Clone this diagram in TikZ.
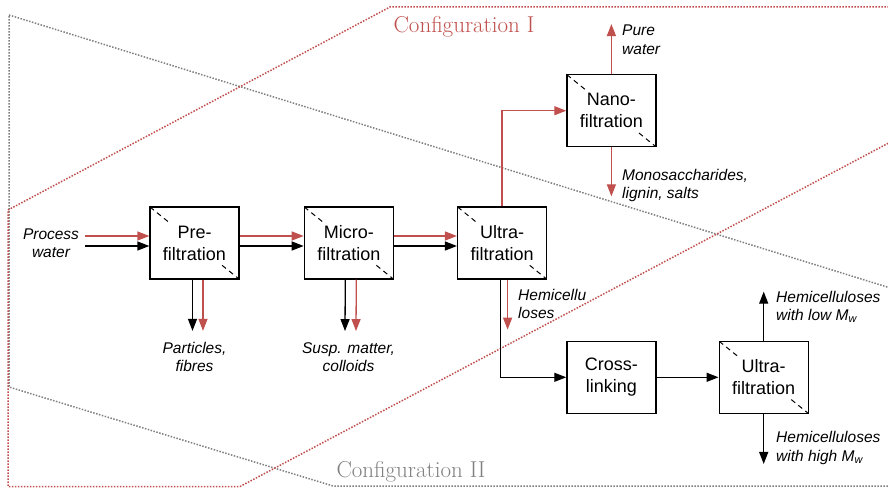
\documentclass[tikz,border=0pt]{standalone}
\usepackage{fontspec}
\setsansfont{Liberation Sans}
\usepackage{tikz}
\usetikzlibrary{arrows.meta,positioning,calc}
\definecolor{cfgred}{RGB}{192,80,77}
\definecolor{cfggray}{RGB}{128,128,128}

\begin{document}
\begin{tikzpicture}[
  x=1pt, y=1pt,
  box/.style={draw, line width=1.3pt, fill=white, minimum width=89pt, minimum height=72pt, align=center, inner sep=0pt, font=\sffamily\fontsize{18}{22}\selectfont},
  filt/.style={box, path picture={
      \draw[line width=1pt, dash pattern=on 5pt off 4pt] (path picture bounding box.north west) -- ($(path picture bounding box.north west)!0.22!(path picture bounding box.south east)$);
      \draw[line width=1pt, dash pattern=on 5pt off 4pt] ($(path picture bounding box.north west)!0.81!(path picture bounding box.south east)$) -- (path picture bounding box.south east);}},
  lbl/.style={align=left, inner sep=0pt, font=\sffamily\itshape\fontsize{15.5}{18.5}\selectfont},
  cfglbl/.style={inner sep=0pt, font=\rmfamily\fontsize{23}{27}\selectfont},
  arr/.style={-{Triangle[length=12pt,width=9pt]}, line width=1.3pt},
  rarr/.style={arr, cfgred},
  cfg/.style={line width=1.5pt, dash pattern=on 1.5pt off 1.5pt}
]
\useasboundingbox (0,0) rectangle (888,488);

% configuration outlines
\begin{scope}
  \clip (0,0) rectangle (888,488);
  \draw[cfg, cfggray] (9,473) -- (900,197) -- (900,2) -- (333,2) -- (9,101) -- cycle;
  \draw[cfg, cfgred] (8,278) -- (390,481) -- (900,481) -- (900,351) -- (240,1.5) -- (8,1.5) -- cycle;
\end{scope}
\node[cfglbl, text=cfgred] (cfgI) at (464,461) {Configuration I};
\node[cfglbl, text=cfggray] (cfgII) at (411,16) {Configuration II};

% process units
\node[filt] (pre) at (194.5,245) {Pre-\\filtration};
\node[filt, right=64pt of pre] (micro) {Micro-\\filtration};
\node[filt, right=63pt of micro] (ultra) {Ultra-\\filtration};
\node[filt, above right=59pt and 19pt of ultra] (nano) {Nano-\\filtration};
\node[box, below right=61pt and 19pt of ultra] (cross) {Cross-\\linking};
\node[filt, right=62pt of cross] (ultrab) {Ultra-\\filtration};

% streams
\node[lbl, align=center] (pw) at (51,245) {Process\\water};
\node[lbl, align=center] (pf) at (194.5,131) {Particles,\\fibres};
\node[lbl, align=center] (sm) at (348.5,131) {Susp. matter,\\colloids};
\node[lbl, anchor=west] (hc) at (518,184) {Hemicellu\\loses};
\node[lbl, anchor=west] (pure) at (622,448.5) {Pure\\water};
\node[lbl, anchor=west] (mono) at (622,302.5) {Monosaccharides,\\lignin, salts};
\node[lbl, anchor=west] (low) at (776,181) {Hemicelluloses\\with low \textit{M}\textsubscript{\textit{w}}};
\node[lbl, anchor=west] (high) at (776,40) {Hemicelluloses\\with high \textit{M}\textsubscript{\textit{w}}};

\draw[rarr] ([xshift=6pt,yshift=7pt]pw.east) -- ([yshift=7pt]pre.west);
\draw[arr] ([xshift=6pt,yshift=-3pt]pw.east) -- ([yshift=-3pt]pre.west);
\foreach \a/\b in {pre/micro, micro/ultra} {
  \draw[rarr] ([yshift=7pt]\a.east) -- ([yshift=7pt]\b.west);
  \draw[arr] ([yshift=-3pt]\a.east) -- ([yshift=-3pt]\b.west);
}
\draw[arr] ([xshift=-2pt]pre.south) -- ([xshift=-2pt,yshift=11pt]pf.north);
\draw[rarr] ([xshift=8.5pt]pre.south) -- ([xshift=8.5pt,yshift=11pt]pf.north);
\draw[arr] ([xshift=-3.5pt]micro.south) -- ([xshift=-3.5pt,yshift=11pt]sm.north);
\draw[rarr] ([xshift=7.5pt]micro.south) -- ([xshift=7.5pt,yshift=11pt]sm.north);

\draw[rarr] (ultra.north) |- (nano.west);
\draw[rarr] (nano.north) -- ([yshift=50pt]nano.north);
\draw[rarr] (nano.south) -- ([yshift=-49pt]nano.south);
\draw[rarr] ([xshift=5.5pt]ultra.south) -- ([xshift=5.5pt,yshift=-50pt]ultra.south);
\draw[arr] ([xshift=-1.5pt]ultra.south) |- (cross.west);
\draw[arr] (cross) -- (ultrab);
\draw[arr] (ultrab.north) -- ([yshift=49pt]ultrab.north);
\draw[arr] (ultrab.south) -- ([yshift=-50pt]ultrab.south);
\end{tikzpicture}
\end{document}
